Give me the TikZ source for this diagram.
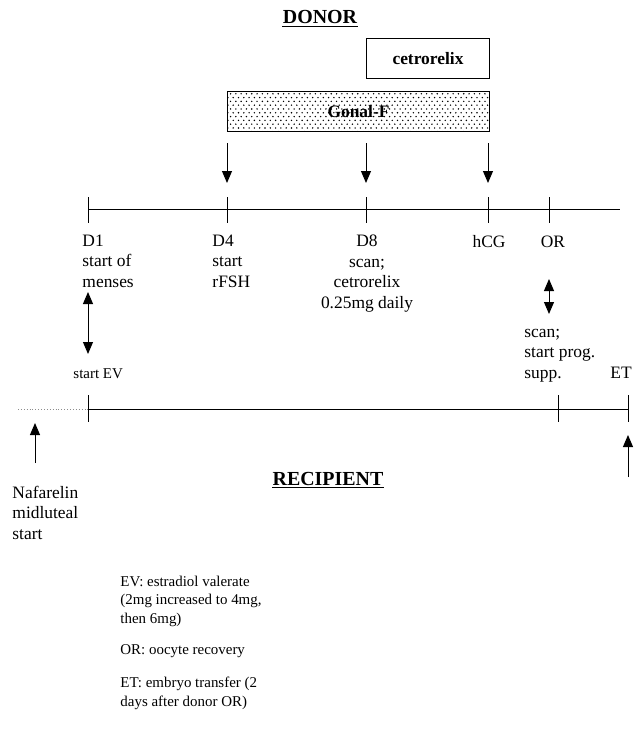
\documentclass[tikz,border=0pt]{standalone}
\usepackage{fontspec}
\setmainfont{Liberation Serif}
\usetikzlibrary{arrows.meta,patterns}
\pgfdeclarepatternformonly{gonaldots}{\pgfqpoint{-1bp}{-1bp}}{\pgfqpoint{4bp}{5bp}}{\pgfqpoint{5.3bp}{7.6bp}}{
  \pgfpathcircle{\pgfqpoint{0bp}{0bp}}{0.8bp}
  \pgfpathcircle{\pgfqpoint{2.65bp}{3.8bp}}{0.8bp}
  \pgfusepath{fill}}
\tikzset{
  lbl/.style = {inner sep=0pt, font=\fontsize{17.5}{20.5}\selectfont},
  note/.style = {inner sep=0pt, align=left, anchor=base west,
                 font=\fontsize{15}{18.5}\selectfont},
  head/.style = {inner sep=0pt, anchor=base, font=\fontsize{20}{24}\selectfont\bfseries},
  drug/.style = {draw, line width=1bp, minimum height=40bp, inner sep=0pt,
                 anchor=south west, font=\fontsize{17.5}{20.5}\selectfont\bfseries},
  arr/.style = {-{Triangle[width=10bp,length=12bp]}, line width=1bp},
  dblarr/.style = {{Triangle[width=10bp,length=12bp]}-{Triangle[width=10bp,length=12bp]},
                   line width=1bp}
}

\begin{document}
\begin{tikzpicture}[x=1bp, y=-1bp, line width=0.9bp]
	\useasboundingbox (0,0) rectangle (642,736);

	% Donor time line
	\coordinate (d1)  at (88,209);
	\coordinate (d4)  at (227,209);
	\coordinate (d8)  at (366,209);
	\coordinate (hcg) at (488,209);
	\coordinate (or)  at (549,209);
	\coordinate (dend) at (620,209);
	\draw (d1) -- (dend);
	\foreach \t in {d1,d4,d8,hcg,or}
		\draw (\t) ++(0,-12) -- ++(0,26);

	% Recipient time line
	\coordinate (r0) at (18,409);
	\coordinate (r1) at (88,409);
	\coordinate (r2) at (558,409);
	\coordinate (r3) at (628,409);
	\coordinate (naf) at (35,409);
	\draw[black!45, dotted] (r0) -- (r1);
	\draw (r1) -- (r3);
	\foreach \t in {r1,r2,r3}
		\draw (\t) ++(0,-14) -- ++(0,27);

	% Headings
	\node[head] (donor) at (320,24) {DONOR};
	\node[head] (recipient) at (328,485) {RECIPIENT};
	\draw[line width=1.6bp] ([yshift=-2.5bp]donor.base west) -- ([yshift=-2.5bp]donor.base east);
	\draw[line width=1.6bp] ([yshift=-2.5bp]recipient.base west) -- ([yshift=-2.5bp]recipient.base east);

	% Drugs
	\node[drug, minimum width=123bp] (cetro) at (366,79) {cetrorelix};
	\node[drug, minimum width=262bp, pattern=gonaldots] (gonal) at (227,132) {};
	\node[inner sep=0pt, font=\fontsize{17.5}{20.5}\selectfont\bfseries] (gonaltext) at (gonal.center) {Gonal-F};
	\foreach \t in {d4,d8,hcg}
		\draw[arr] (\t) ++(0,-66) -- ++(0,40);

	% Donor labels
	\node[lbl, align=left, anchor=base west] (lbld1) at (82,287) {D1\\start of\\menses};
	\node[lbl, align=left, anchor=base west] (lbld4) at (212,287) {D4\\start\\rFSH};
	\node[lbl, align=center, anchor=base] (lbld8) at (367,308) {D8\\scan;\\cetrorelix\\0.25mg daily};
	\node[lbl, anchor=base] (lblhcg) at (489,247) {hCG};
	\node[lbl, anchor=base] (lblor) at (553,247) {OR};

	% Links donor - recipient
	\draw[dblarr] (d1) ++(0,83) -- ++(0,62);
	\draw[dblarr] (or) ++(0,70) -- ++(0,35);
	\node[note] (startev) at (73,378) {start EV};
	\node[lbl, align=left, anchor=base west] (scan) at (524,378) {scan;\\start prog.\\supp.};
	\node[lbl, anchor=base west] (et) at (610,378) {ET};

	% Recipient arrows
	\draw[arr] (naf) ++(0,54) -- ++(0,-40);
	\draw[arr] (r3) ++(0,68) -- ++(0,-42);
	\node[lbl, align=left, anchor=base west] (nafarelin) at (12,539) {Nafarelin\\midluteal\\start};

	% Key
	\node[note] (keyev) at (120,623) {EV: estradiol valerate\\(2mg increased to 4mg,\\then 6mg)};
	\node[note] (keyor) at (120,654) {OR: oocyte recovery};
	\node[note] (keyet) at (120,706) {ET: embryo transfer (2\\days after donor OR)};
\end{tikzpicture}
\end{document}
